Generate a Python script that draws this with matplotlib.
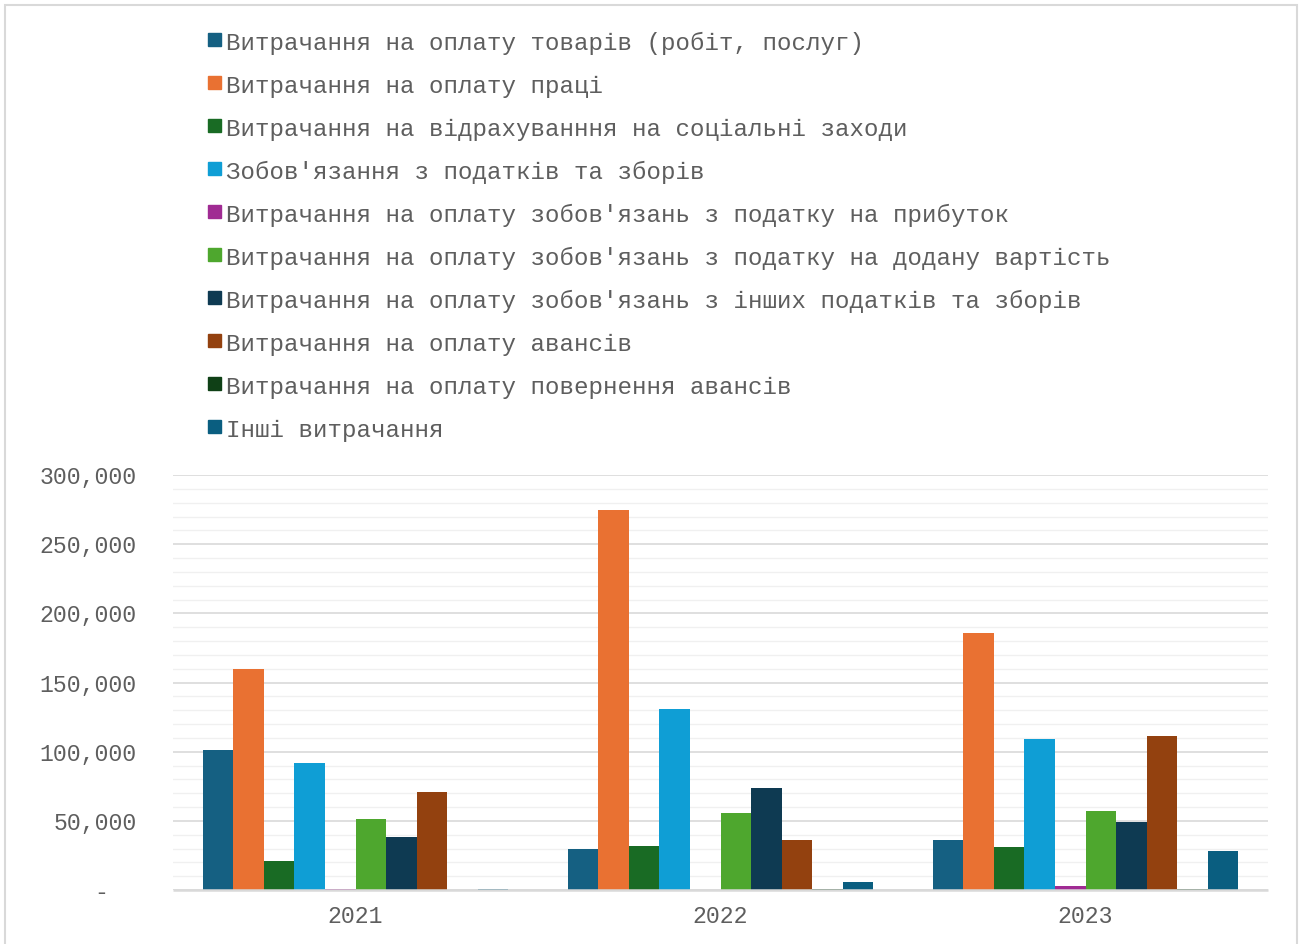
#!/usr/bin/env python3
"""
Grouped bar chart of expenditures by year (2021-2023).
"""

import matplotlib
matplotlib.use('Agg')
import matplotlib.pyplot as plt
import numpy as np
from matplotlib.ticker import FuncFormatter, MultipleLocator
from matplotlib.patches import Rectangle

years = ['2021', '2022', '2023']

labels = [
    "Витрачання на оплату товарів (робіт, послуг)",
    "Витрачання на оплату праці",
    "Витрачання на відрахуванння на соціальні заходи",
    "Зобов'язання з податків та зборів",
    "Витрачання на оплату зобов'язань з податку на прибуток",
    "Витрачання на оплату зобов'язань з податку на додану вартість",
    "Витрачання на оплату зобов'язань з інших податків та зборів",
    "Витрачання на оплату авансів",
    "Витрачання на оплату повернення авансів",
    "Інші витрачання",
]

goods = [101000, 29500, 36000]
wages = [160000, 274500, 186000]
social = [21000, 32000, 31000]
tax_liab = [92000, 130500, 109500]
profit_tax = [800, 0, 3000]
vat = [51000, 56000, 57000]
other_tax = [38500, 73500, 49000]
advances = [70500, 36500, 111000]
adv_refund = [0, 800, 500]
other = [1000, 5500, 28000]

series = [goods, wages, social, tax_liab, profit_tax, vat,
          other_tax, advances, adv_refund, other]

colors = ['#156082', '#E97132', '#196B24', '#0F9ED5', '#A02B93',
          '#4EA72E', '#0E3A52', '#93410F', '#0F4016', '#0A5E80']

FONT = 'Liberation Mono'
TXT = '#5E5E5E'
W, H = 1303, 944

fig = plt.figure(figsize=(W / 100, H / 100), dpi=100)
ax = fig.add_axes([173 / W, (H - 890) / H, 1095 / W, 415 / H])

x = np.arange(len(years))
width = 0.0836
n = len(series)
for i, vals in enumerate(series):
    ax.bar(x + (i - (n - 1) / 2) * width, vals, width, color=colors[i],
           linewidth=0, zorder=3)

ax.set_xlim(-0.5, len(years) - 0.5)
ax.set_ylim(0, 300000)
ax.yaxis.set_major_locator(MultipleLocator(50000))
ax.yaxis.set_minor_locator(MultipleLocator(10000))
# accounting style: zero shown as a dash, padded two cells
ax.yaxis.set_major_formatter(FuncFormatter(lambda v, p: '-  ' if v == 0 else f'{v:,.0f}'))
ax.grid(axis='y', which='major', color='#D9D9D9', linewidth=1.2, zorder=0)
ax.grid(axis='y', which='minor', color='#F0F0F0', linewidth=1.0, zorder=0)
ax.set_xticks(x)
ax.set_xticklabels(years)

for s in ['top', 'right', 'left']:
    ax.spines[s].set_visible(False)
ax.spines['bottom'].set_color('#D9D9D9')
ax.spines['bottom'].set_linewidth(1.8)
ax.spines['bottom'].set_capstyle('butt')
ax.spines['bottom'].set_zorder(4)

ax.tick_params(axis='both', which='both', length=0)
ax.tick_params(axis='y', pad=26, labelsize=16.7, labelcolor=TXT)
ax.tick_params(axis='x', pad=11, labelsize=16.7, labelcolor=TXT)
for lbl in ax.get_xticklabels() + ax.get_yticklabels():
    lbl.set_fontfamily(FONT)

# legend, one entry per row
for i, (lab, col) in enumerate(zip(labels, colors)):
    y = 50 + 43 * i
    fig.patches.append(Rectangle((208 / W, (H - y + 4) / H), 13 / W, 13 / H,
                                 transform=fig.transFigure, color=col))
    fig.text(226 / W, (H - y) / H, lab, fontsize=17.35, family=FONT,
             color=TXT, ha='left', va='baseline')

# chart border
fig.patches.append(Rectangle((5 / W, -0.01), 1292 / W, (H - 5) / H + 0.01,
                             transform=fig.transFigure, fill=False,
                             edgecolor='#D9D9D9', linewidth=1.5))

fig.savefig('out.png', dpi=100)
